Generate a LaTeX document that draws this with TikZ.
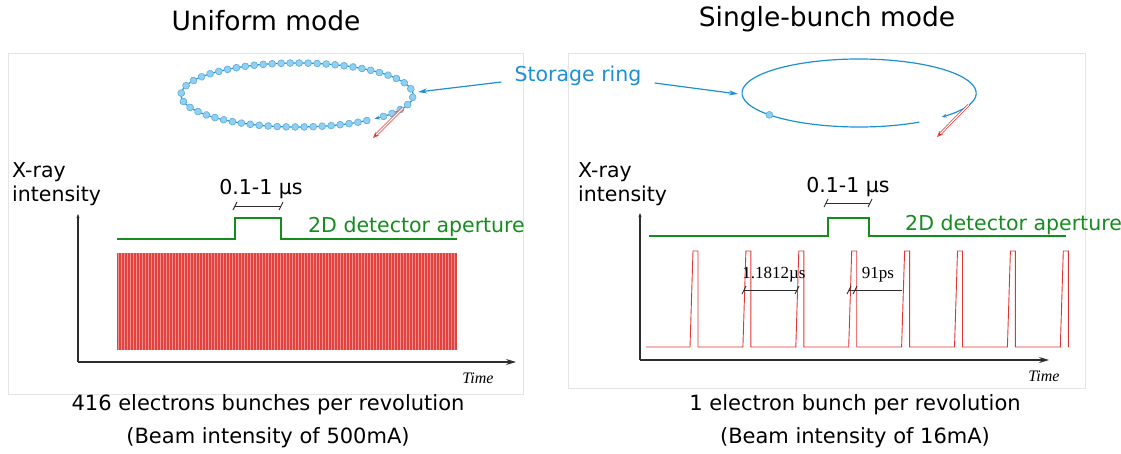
\documentclass[tikz,border=0pt]{standalone}
\usepackage{fontspec}
\setmainfont{DejaVu Sans}
\newfontfamily\timesfont{Liberation Serif}
\usepackage{tikz}
\usetikzlibrary{arrows.meta, positioning, calc, decorations.markings}

\definecolor{ringblue}{RGB}{30,144,210}
\definecolor{beadfill}{RGB}{145,208,243}
\definecolor{apgreen}{RGB}{20,140,30}
\definecolor{pulsered}{RGB}{226,52,52}
\definecolor{burstred}{RGB}{226,66,62}
\definecolor{axisgray}{RGB}{45,45,45}
\definecolor{panelgray}{RGB}{228,228,228}

% small slanted tick at the end of a dimension line
\newcommand{\dimtick}[2]{\draw[dimline] (#1-2,#2+4) -- (#1+2,#2-4);}

\begin{document}
\begin{tikzpicture}[x=1pt, y=-1pt,
  modetitle/.style={font=\fontsize{26.5}{30}\selectfont, inner sep=0pt},
  txt/.style={font=\fontsize{20.5}{24}\selectfont, inner sep=0pt},
  capt/.style={font=\fontsize{21}{33}\selectfont, align=center, inner sep=0pt},
  serif/.style={font=\fontsize{17}{20}\selectfont\timesfont, inner sep=0pt},
  timelabel/.style={font=\fontsize{16}{20}\selectfont\timesfont\itshape, inner sep=0pt},
  panel/.style={draw=panelgray, line width=0.8pt},
  axisline/.style={draw=axisgray, line width=1.3pt},
  aperture/.style={draw=apgreen, line width=1.4pt},
  pulse/.style={draw=pulsered, line width=0.9pt},
  dimline/.style={draw=axisgray, line width=0.9pt},
  ringline/.style={draw=ringblue, line width=1.2pt},
  bead/.style={fill=beadfill, draw=ringblue!70, line width=0.7pt},
  ringarrow/.style={draw=ringblue, line width=1.2pt, -{Stealth[length=9pt,width=5pt]}},
  xray/.style={draw=pulsered, double=white, double distance=1.2pt, line width=0.7pt,
    -{Stealth[length=6pt,width=5pt,open]}},
]
\useasboundingbox (0,0) rectangle (1121,454);

% ---------------- uniform mode ----------------
\draw[panel] (8,53) rectangle (523,394);
\node[modetitle] (titleU) at (266,21) {Uniform mode};

% storage ring filled with bunches
\coordinate (ringU) at (297,95);
\draw[ringline, -{Stealth[length=5pt,width=4pt]}]
  ($(ringU)+(53:116 and 32)$) arc[start angle=53, end angle=408, x radius=116, y radius=32];
\path[postaction={decorate}, decoration={markings,
    mark=between positions 0 and 1 step 9pt with {\filldraw[bead] (0,0) circle (3.4pt);}}]
  ($(ringU)+(53:116 and 32)$) arc[start angle=53, end angle=403, x radius=116, y radius=32];
\coordinate (emitU) at ($(ringU)+(24:116 and 32)$);
\coordinate (rayU) at (373,138);
\draw[xray] (emitU) -- (rayU);

\node[txt, align=left, anchor=west] (ylabU) at (12,184) {X-ray\\intensity};
\coordinate (originU) at (78,362);
\draw[axisline, -{Stealth[length=4pt,width=3pt]}] (originU) -- ++(0,-148);
\draw[axisline, -{Stealth[length=10pt,width=6pt]}] (originU) -- ++(438,0);
\node[timelabel] (timeU) at (478,378) {Time};

% detector gate
\draw[aperture] (117,239) -- (235,239) -- (235,218) -- (281,218) -- (281,239) -- (457,239);
\node[txt, text=apgreen, anchor=west] (apU) at (308,227) {2D detector aperture};
\draw[dimline] (235,206) -- (281,206);
\dimtick{235}{206} \dimtick{281}{206}
\node[txt] (gateU) at (261,189) {0.1-1 µs};

% 416 bunches, too close to tell apart
\fill[burstred] (117,253) rectangle (457,350);
\foreach \k in {0,...,112}
  \draw[pulsered!55!white, line width=0.35pt] ({118.5+3*\k},253) -- ++(0,97);

\node[capt] (captU) at (268,421) {416 electrons bunches per revolution\\(Beam intensity of 500mA)};

% ---------------- single-bunch mode ----------------
\draw[panel] (568,53) rectangle (1085,388);
\node[modetitle] (titleS) at (827,19) {Single-bunch mode};

\coordinate (ringS) at (859,93);
\draw[ringline, -{Stealth[length=5pt,width=4pt]}]
  ($(ringS)+(59:117 and 34)$) arc[start angle=59, end angle=405, x radius=117, y radius=34];
\filldraw[bead] ($(ringS)+(140:117 and 34)$) circle (3.4pt);
\coordinate (emitS) at ($(ringS)+(20:117 and 34)$);
\coordinate (rayS) at (937,137);
\draw[xray] (emitS) -- (rayS);

% label shared by both rings
\node[txt, text=ringblue] (ringlabel) at (578,76) {Storage ring};
\coordinate (hitU) at (418,92);
\coordinate (hitS) at (738,94);
\draw[ringarrow] ([shift={(-13,6)}]ringlabel.west) -- (hitU);
\draw[ringarrow] ([shift={(13,7)}]ringlabel.east) -- (hitS);

\node[txt, align=left, anchor=west] (ylabS) at (578,184) {X-ray\\intensity};
\coordinate (originS) at (640,360);
\draw[axisline, -{Stealth[length=4pt,width=3pt]}] (originS) -- ++(0,-147);
\draw[axisline, -{Stealth[length=10pt,width=6pt]}] (originS) -- ++(409,0);
\node[timelabel] (timeS) at (1044,376) {Time};

\draw[aperture] (649,236) -- (828,236) -- (828,218) -- (869,218) -- (869,236) -- (1066,236);
\node[txt, text=apgreen, anchor=west] (apS) at (905,225) {2D detector aperture};
\draw[dimline] (826,203) -- (870,203);
\dimtick{826}{203} \dimtick{870}{203}
\node[txt] (gateS) at (848,187) {0.1-1 µs};

% one bunch every revolution
\draw[pulse] (646,347)
  \foreach \p in {0,...,7} { -- ({690+52.9*\p},347) -- ++(3,-96) -- ++(5,0) -- ++(0,96) };

\draw[dimline] (744,290) -- (797,290);
\dimtick{744}{290} \dimtick{797}{290}
\node[serif] (periodS) at (774,275) {1.1812µs};
\draw[dimline] (849,290) -- (902,290);
\dimtick{849}{290} \dimtick{855}{290}
\node[serif] (widthS) at (878,275) {91ps};

\node[capt] (captS) at (855,421) {1 electron bunch per revolution\\(Beam intensity of 16mA)};
\end{tikzpicture}
\end{document}
